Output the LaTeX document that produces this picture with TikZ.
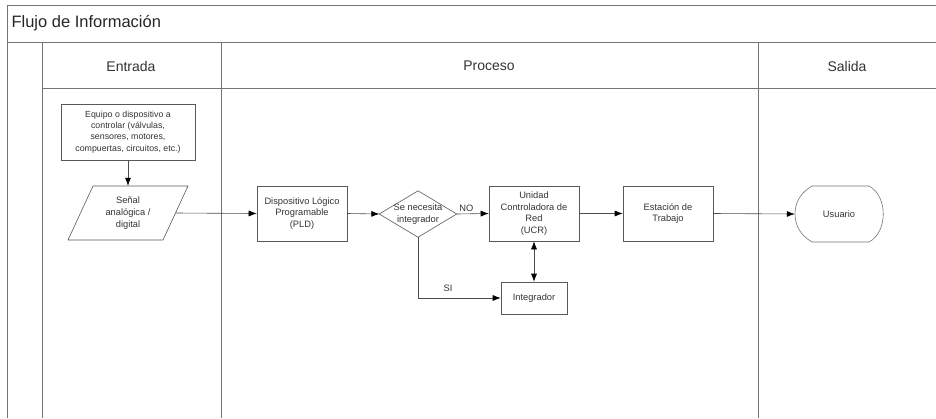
\documentclass[tikz,border=0pt]{standalone}
\usepackage{fontspec}
\setmainfont{Liberation Sans}
\usetikzlibrary{arrows.meta,calc}
\begin{document}
\begin{tikzpicture}[x=1pt,y=-1pt,
  frame/.style={draw=black!55,line width=0.7pt},
  box/.style={draw=black!65,line width=0.6pt,rectangle,align=center,inner sep=1pt,
    font=\fontsize{9.3}{11.8}\selectfont,text=black!80},
  ghost/.style={draw=none,rectangle,align=center,inner sep=0pt,
    font=\fontsize{9.3}{11.8}\selectfont,text=black!80},
  tip/.tip={Latex[length=8pt,width=6pt,fill=black,color=black]},
  conn/.style={draw=black!70,line width=0.6pt,-tip},
  hdr/.style={font=\fontsize{14}{16}\selectfont,text=black!80},
  lbl/.style={font=\fontsize{9.3}{11}\selectfont,text=black!80}
]
\useasboundingbox (0,0) rectangle (936,418);
% frame
\draw[frame] (936,5) -- (7,5) -- (7,418);
\draw[frame] (7,42) -- (936,42);
\draw[frame] (42,88) -- (936,88);
\draw[frame] (42,42) -- (42,418);
\draw[frame] (221,42) -- (221,418);
\draw[frame] (758,42) -- (758,418);
\node[anchor=west,font=\fontsize{16.5}{18}\selectfont,text=black!85] (title) at (8,23) {Flujo de Información};
\node[hdr] (h1) at (131,66) {Entrada};
\node[hdr] (h2) at (489,66) {Proceso};
\node[hdr] (h3) at (847,66) {Salida};
% nodes
\node[box,minimum width=134pt,minimum height=56pt,font=\fontsize{8.8}{11.3}\selectfont] (eq) at (128,132)
  {Equipo o dispositivo a\\controlar (válvulas,\\sensores, motores,\\compuertas, circuitos, etc.)};
\node[ghost,minimum width=95pt,minimum height=54pt] (sen) at (128,213) {Señal\\analógica /\\digital};
\draw[draw=black!65,line width=0.6pt] (93,186) -- (188,186) -- (163,240) -- (68,240) -- cycle;
\node[box,minimum width=90pt,minimum height=55pt] (pld) at (302,213.5) {Dispositivo Lógico\\Programable\\(PLD)};
\node[ghost,minimum width=77pt,minimum height=46pt] (dec) at (418,214) {Se necesita\\integrador};
\draw[draw=black!65,line width=0.6pt] (dec.west) -- (dec.north) -- (dec.east) -- (dec.south) -- cycle;
\node[box,minimum width=90pt,minimum height=55pt] (ucr) at (534,213.5) {Unidad\\Controladora de\\Red\\(UCR)};
\node[box,minimum width=90pt,minimum height=55pt] (est) at (668,213.5) {Estación de\\Trabajo};
\node[ghost,minimum width=88pt,minimum height=56pt] (usu) at (839,214) {Usuario};
\draw[draw=black!55,line width=0.6pt] (812,186) -- (869,186)
  .. controls (888,196) and (888,232) .. (869,242) -- (812,242)
  .. controls (800,235) and (795,225) .. (795,214)
  .. controls (795,203) and (800,193) .. (812,186) -- cycle;
\node[box,minimum width=66pt,minimum height=32pt] (int) at (534,298) {Integrador};
% connectors
\draw[conn] (eq) -- (sen.north);
\draw[conn] (sen.east) -- (pld.west);
\draw[conn] (pld.east) -- (dec.west);
\draw[conn] (dec.east) -- node[lbl,above,pos=0.3,yshift=-1pt] (no) {NO} (ucr.west);
\draw[conn] (ucr.east) -- (est.west);
\draw[conn] (est.east) -- (usu.west);
\draw[draw=black!70,line width=0.6pt,tip-tip] (ucr.south) -- (int.north);
\coordinate (corner) at (dec.south |- int.west);
\draw[conn] (dec.south) -- (corner) -- (int.west);
\node[lbl] (si) at (448,288) {SI};
\end{tikzpicture}
\end{document}
